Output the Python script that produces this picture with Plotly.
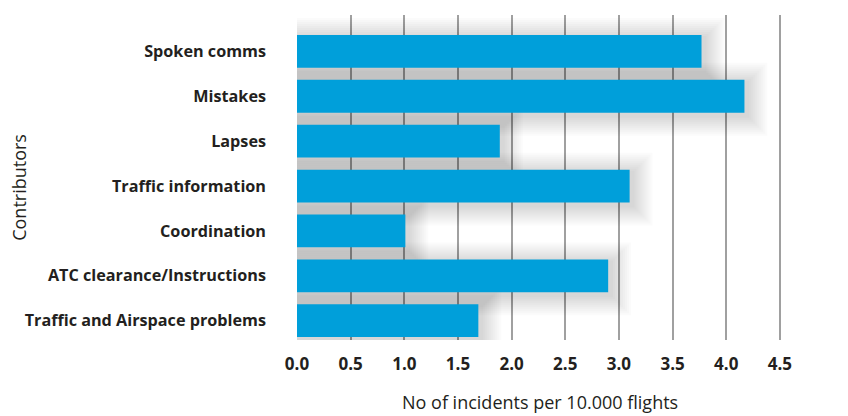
import plotly.graph_objects as go

categories = ["Traffic and Airspace problems", "ATC clearance/Instructions", "Coordination",
              "Traffic information", "Lapses", "Mistakes", "Spoken comms"]
values = [1.69, 2.90, 1.01, 3.10, 1.89, 4.17, 3.77]
x_ticks = [0, 0.5, 1.0, 1.5, 2.0, 2.5, 3.0, 3.5, 4.0, 4.5]
x_ticklabels = ["0.0", "0.5", "1.0", "1.5", "2.0", "2.5", "3.0", "3.5", "4.0", "4.5"]

BAR_W = 0.73
PX_Y = 1 / 44.87   # category units per pixel
PX_X = 1 / 107.3   # data units per pixel

fig = go.Figure()

# soft drop shadow layers
N = 10
for k in range(1, N + 1):
    s = k * 2.0
    d = 3
    r = 3
    fig.add_trace(go.Bar(
        y=categories, x=[v + (r + s) * PX_X for v in values], orientation="h",
        base=0, width=BAR_W + 2 * s * PX_Y, offset=-BAR_W / 2 - (s + d) * PX_Y,
        marker=dict(color="rgba(0,0,0,0.016)", line=dict(width=0)),
        hoverinfo="skip", showlegend=False))

fig.add_trace(go.Bar(
    y=categories, x=values, orientation="h", width=BAR_W, offset=-BAR_W / 2,
    marker=dict(color="#009fda", line=dict(width=0)), showlegend=False))

fig.update_layout(
    width=848, height=416, barmode="overlay",
    margin=dict(l=297, r=66, t=15, b=76),
    paper_bgcolor="white", plot_bgcolor="white",
    font=dict(family="Open Sans", color="#231f20"),
    xaxis=dict(range=[0, 4.52], tickvals=x_ticks, ticktext=x_ticklabels,
               showgrid=True, gridcolor="#a0a0a0", gridwidth=1.5, zeroline=False,
               showline=False, ticks="", ticklabelstandoff=12,
               tickfont=dict(size=17, weight="bold", color="#231f20")),
    yaxis=dict(type="category", range=[-0.43, 6.81], showgrid=False, zeroline=False,
               showline=False, ticks="", ticklabelstandoff=30,
               tickfont=dict(size=16.2, weight="bold", color="#231f20")),
    annotations=[
        dict(text="No of incidents per 10.000 flights", xref="paper", yref="paper",
             x=0.5, y=-0.19, xanchor="center", yanchor="middle", showarrow=False,
             font=dict(size=18, color="#231f20")),
        dict(text="Contributors", xref="paper", yref="paper",
             x=-0.572, xanchor="center", y=0.47, yanchor="middle", textangle=-90,
             showarrow=False, font=dict(size=18, color="#231f20")),
    ],
)

fig.write_html("out.html")
